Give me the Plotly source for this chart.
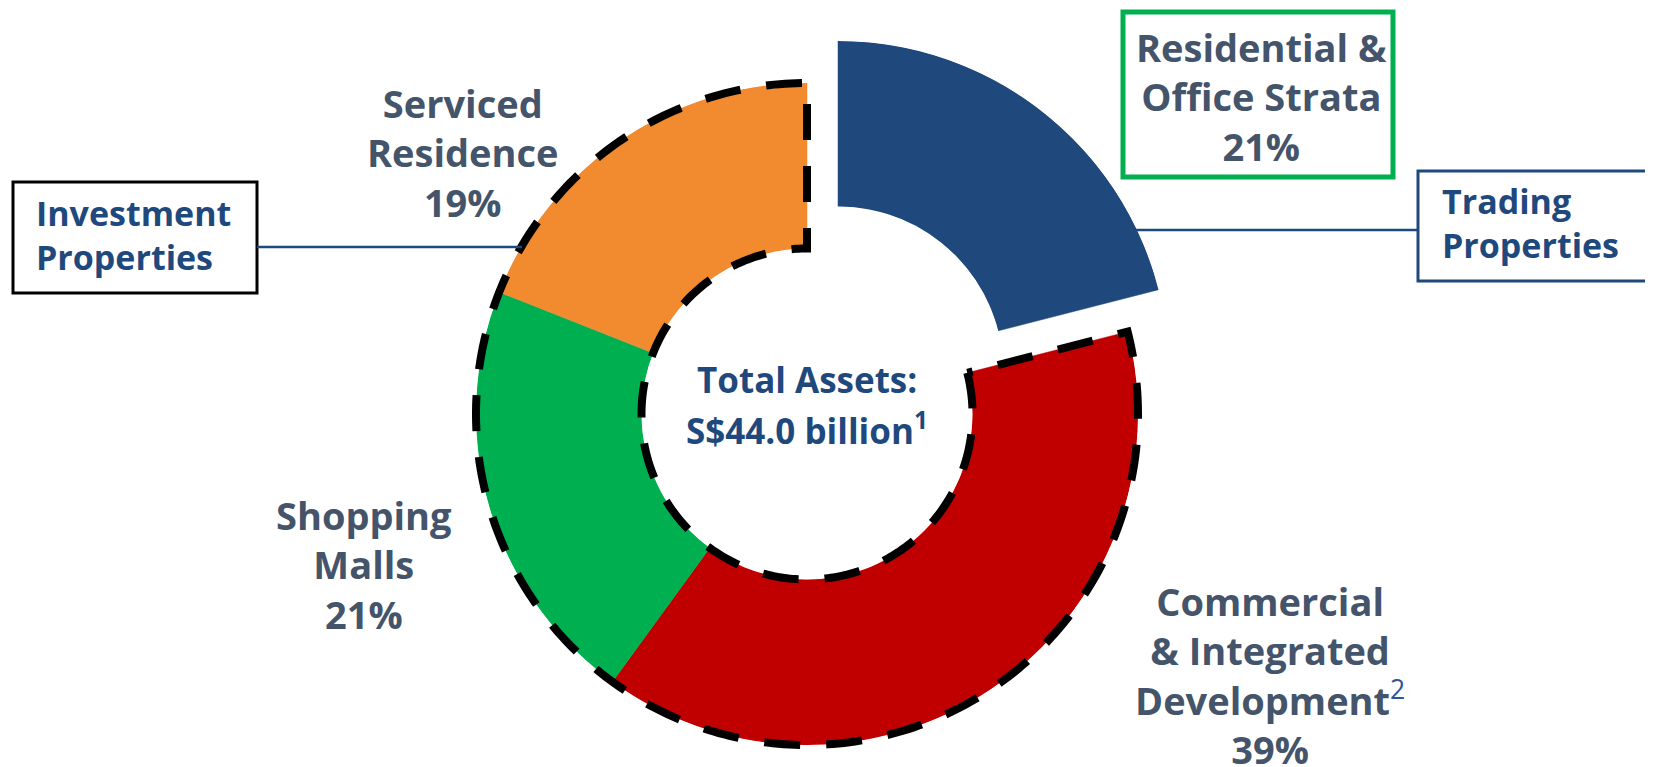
import numpy as np
import plotly.graph_objects as go

# total assets split by segment (clockwise from 12 o'clock)
segments = ["Residential & Office Strata", "Commercial & Integrated Development",
            "Shopping Malls", "Serviced Residence"]
shares = [21, 39, 21, 19]
seg_colors = ["#1F497D", "#C00000", "#00B050", "#F28A30"]
label_lines = [["Residential &", "Office Strata"],
               ["Commercial", "& Integrated",
                "Development<sup><span style='color:#2F5597;font-weight:normal'>2</span></sup>"],
               ["Shopping", "Malls"],
               ["Serviced", "Residence"]]
centre_text = ["Total Assets:", "S$44.0 billion<sup>1</sup>"]
group_left = ["Investment", "Properties"]
group_right = ["Trading", "Properties"]

W, H = 1653, 767
OFF = 8  # default page margin around the plot div
GREY = "#44546A"
NAVY = "#1F497D"
FONT = "Open Sans"

# slice angles from the shares
spans = np.array(shares) * 3.6
ends = np.cumsum(spans)
starts = ends - spans
mids = starts + spans / 2


# screen pixels -> paper coords
def px(x):
    return (x - OFF) / W


def py(y):
    return 1 - (y - OFF) / H


def dom(cx, cy, r):
    return dict(x=[px(cx - r), px(cx + r)], y=[py(cy + r), py(cy - r)])


R = 331
HOLE = 0.5
main_c = (807, 414)
pulled_c = (838, 372)

fig = go.Figure()

# pulled-out slice (first segment)
fig.add_trace(go.Barpolar(
    r=[1], theta=[mids[0]], width=[spans[0]],
    marker=dict(color=seg_colors[0], line=dict(color=seg_colors[0], width=0.5)),
    subplot="polar2", hoverinfo="skip"))

# remaining slices
fig.add_trace(go.Barpolar(
    r=[1] * 3, theta=list(mids[1:]), width=list(spans[1:]),
    marker=dict(color=seg_colors[1:], line=dict(color=seg_colors[1:], width=0.5)),
    subplot="polar", hoverinfo="skip"))

# dashed outline around the investment-property slices, on a slightly larger
# polar so the thick line is not clipped at the ring edges
PAD = 14
e = PAD / (R * (1 - HOLE))
a0, a1 = starts[1], ends[-1]
arc = list(np.linspace(a0, a1, 300))
fig.add_trace(go.Scatterpolar(
    r=[e] * len(arc) + [1 + e] * len(arc) + [e],
    theta=arc + arc[::-1] + [a0],
    mode="lines", line=dict(color="black", width=8, dash="36px,26px"),
    subplot="polar3", hoverinfo="skip"))

hidden_ang = dict(direction="clockwise", rotation=90, showline=False, showgrid=False,
                  showticklabels=False, ticks="")
fig.update_layout(
    polar=dict(domain=dom(*main_c, R), hole=HOLE, bgcolor="rgba(0,0,0,0)",
               angularaxis=hidden_ang, radialaxis=dict(visible=False, range=[0, 1])),
    polar2=dict(domain=dom(*pulled_c, R), hole=HOLE, bgcolor="rgba(0,0,0,0)",
                angularaxis=hidden_ang, radialaxis=dict(visible=False, range=[0, 1])),
    polar3=dict(domain=dom(*main_c, R + PAD), hole=(HOLE * R - PAD) / (R + PAD),
                bgcolor="rgba(0,0,0,0)", angularaxis=hidden_ang,
                radialaxis=dict(visible=False, range=[0, 1 + 2 * e])),
)

annotations = []


def add_block(lines, x, y, size=38, color=GREY, xanchor="center"):
    annotations.append(dict(
        text="<br>".join(lines), x=px(x), y=py(y - 0.05 * size),
        xref="paper", yref="paper", xanchor=xanchor, yanchor="middle", align=xanchor,
        showarrow=False, font=dict(family=FONT, size=size, color=color, weight="bold")))


label_x = [1261, 1270, 364, 462]
label_y = [98, 677, 566, 154]
for lines, share, lx, ly in zip(label_lines, shares, label_x, label_y):
    add_block(lines + [f"{share}%"], lx, ly)

add_block(centre_text[:1], 807, 381, size=35, color=NAVY)
add_block(centre_text[1:], 807, 430, size=35, color=NAVY)
add_block(group_left, 34, 237, size=34, color=NAVY, xanchor="left")
add_block(group_right, 1440, 225, size=34, color=NAVY, xanchor="left")

shapes = [
    dict(type="rect", x0=px(1123), x1=px(1393), y0=py(12), y1=py(177),
         line=dict(color="#00B050", width=5)),
    dict(type="rect", x0=px(13), x1=px(257), y0=py(182), y1=py(293),
         line=dict(color="black", width=3)),
    dict(type="line", x0=px(257), x1=px(522), y0=py(247), y1=py(247),
         line=dict(color=NAVY, width=2.5)),
    dict(type="rect", x0=px(1418), x1=px(W + 30), y0=py(171), y1=py(281),
         line=dict(color=NAVY, width=3)),
    dict(type="line", x0=px(1134), x1=px(1418), y0=py(230), y1=py(230),
         line=dict(color=NAVY, width=2.5)),
]
for s in shapes:
    s.update(xref="paper", yref="paper")

fig.update_layout(
    width=W, height=H, margin=dict(l=0, r=0, t=0, b=0),
    paper_bgcolor="white", plot_bgcolor="white", showlegend=False,
    annotations=annotations, shapes=shapes,
)

fig.write_html("out.html")
